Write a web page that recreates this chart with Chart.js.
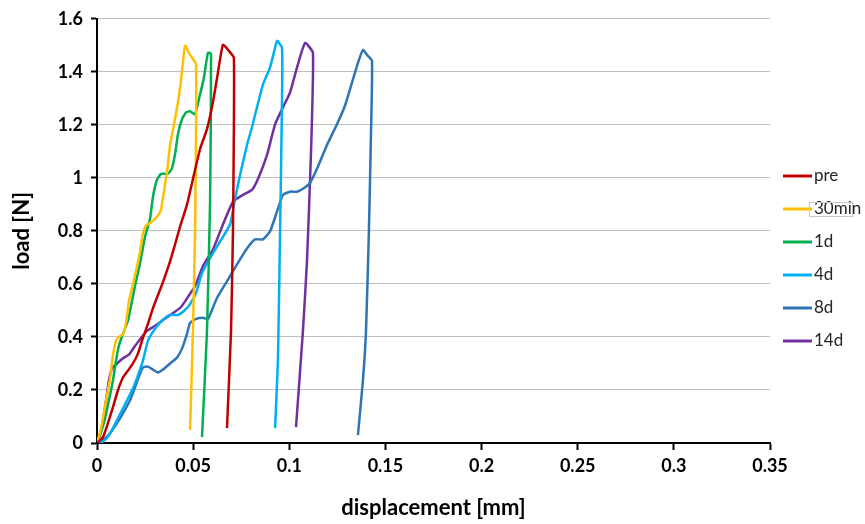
<!DOCTYPE html>
<html>
<head>
<meta charset="utf-8">
<script src="https://cdn.jsdelivr.net/npm/chart.js@4.4.1/dist/chart.umd.min.js"></script>
<style>
  html, body { margin: 0; padding: 0; background: #fff; }
  #wrap { width: 865px; height: 524px; }
</style>
</head>
<body>
<div id="wrap"><canvas id="loadChart" width="865" height="524"></canvas></div>
<script>
// series names and colours
var seriesNames = ['pre', '30min', '1d', '4d', '8d', '14d'];
var seriesColors = ['#C00000', '#FFC000', '#00B050', '#00B0F0', '#2E75B6', '#7030A0'];

// tick labels
var xTicks = [0, 0.05, 0.1, 0.15, 0.2, 0.25, 0.3, 0.35];
var yTicks = [0, 0.2, 0.4, 0.6, 0.8, 1, 1.2, 1.4, 1.6];

// displacement [mm] / load [N]
var preX = [0, 0.0031, 0.0057, 0.0083, 0.0109, 0.0135, 0.0161, 0.0187, 0.0213, 0.0239, 0.0265, 0.0291, 0.0317, 0.0343, 0.0380, 0.0406, 0.0432, 0.0468, 0.0499, 0.0536, 0.0572, 0.0603, 0.0629, 0.0655, 0.0686, 0.0712, 0.0707, 0.0697, 0.0676];
var preY = [0, 0.022, 0.075, 0.135, 0.199, 0.247, 0.273, 0.300, 0.337, 0.397, 0.449, 0.509, 0.558, 0.607, 0.685, 0.749, 0.816, 0.899, 0.996, 1.109, 1.184, 1.285, 1.397, 1.502, 1.479, 1.453, 0.798, 0.423, 0.056];

var min30X = [0, 0.0016, 0.0031, 0.0047, 0.0068, 0.0083, 0.0099, 0.0120, 0.0135, 0.0151, 0.0166, 0.0187, 0.0208, 0.0224, 0.0239, 0.0255, 0.0286, 0.0317, 0.0333, 0.0348, 0.0364, 0.0380, 0.0400, 0.0421, 0.0437, 0.0458, 0.0484, 0.0515, 0.0510, 0.0499, 0.0484];
var min30Y = [0, 0.041, 0.094, 0.161, 0.243, 0.330, 0.386, 0.404, 0.408, 0.453, 0.536, 0.599, 0.667, 0.723, 0.790, 0.820, 0.835, 0.858, 0.880, 0.948, 1.022, 1.124, 1.199, 1.285, 1.367, 1.498, 1.464, 1.427, 0.798, 0.423, 0.049];

var d1X = [0, 0.0021, 0.0042, 0.0062, 0.0083, 0.0099, 0.0114, 0.0135, 0.0161, 0.0182, 0.0203, 0.0224, 0.0250, 0.0276, 0.0291, 0.0312, 0.0333, 0.0359, 0.0374, 0.0390, 0.0406, 0.0421, 0.0442, 0.0463, 0.0484, 0.0510, 0.0536, 0.0556, 0.0577, 0.0593, 0.0588, 0.0572, 0.0546];
var d1Y = [0, 0.041, 0.094, 0.161, 0.236, 0.311, 0.367, 0.412, 0.461, 0.536, 0.610, 0.678, 0.779, 0.846, 0.929, 0.993, 1.015, 1.015, 1.019, 1.037, 1.090, 1.165, 1.221, 1.247, 1.251, 1.240, 1.315, 1.378, 1.472, 1.468, 0.910, 0.423, 0.022];

var d4X = [0, 0.0016, 0.0052, 0.0083, 0.0120, 0.0156, 0.0187, 0.0213, 0.0239, 0.0265, 0.0302, 0.0338, 0.0380, 0.0421, 0.0452, 0.0484, 0.0515, 0.0546, 0.0588, 0.0640, 0.0692, 0.0718, 0.0744, 0.0780, 0.0806, 0.0832, 0.0863, 0.0900, 0.0926, 0.0936, 0.0962, 0.0962, 0.0952, 0.0941, 0.0926];
var d4Y = [0, 0, 0.019, 0.056, 0.109, 0.161, 0.206, 0.255, 0.311, 0.386, 0.431, 0.461, 0.483, 0.483, 0.498, 0.524, 0.566, 0.640, 0.697, 0.760, 0.824, 0.921, 1.011, 1.124, 1.191, 1.266, 1.352, 1.416, 1.491, 1.517, 1.491, 1.285, 0.798, 0.311, 0.056];

var d8X = [0, 0.0031, 0.0068, 0.0104, 0.0135, 0.0172, 0.0198, 0.0224, 0.0239, 0.0265, 0.0291, 0.0317, 0.0343, 0.0380, 0.0416, 0.0442, 0.0468, 0.0484, 0.0515, 0.0551, 0.0577, 0.0624, 0.0676, 0.0728, 0.0780, 0.0822, 0.0863, 0.0900, 0.0936, 0.0967, 0.1004, 0.1040, 0.1071, 0.1108, 0.1144, 0.1196, 0.1248, 0.1290, 0.1331, 0.1357, 0.1383, 0.1404, 0.1430, 0.1425, 0.1414, 0.1399, 0.1383, 0.1357];
var d8Y = [0, 0.011, 0.037, 0.075, 0.112, 0.161, 0.210, 0.262, 0.285, 0.288, 0.277, 0.266, 0.277, 0.300, 0.322, 0.356, 0.412, 0.453, 0.468, 0.472, 0.468, 0.547, 0.610, 0.674, 0.734, 0.768, 0.768, 0.798, 0.873, 0.936, 0.948, 0.948, 0.959, 0.981, 1.034, 1.124, 1.202, 1.273, 1.371, 1.434, 1.483, 1.464, 1.442, 1.172, 0.798, 0.423, 0.236, 0.030];

var d14X = [0, 0.0016, 0.0031, 0.0047, 0.0062, 0.0078, 0.0109, 0.0140, 0.0166, 0.0192, 0.0218, 0.0260, 0.0302, 0.0338, 0.0390, 0.0437, 0.0473, 0.0510, 0.0551, 0.0603, 0.0655, 0.0707, 0.0759, 0.0806, 0.0837, 0.0884, 0.0926, 0.0967, 0.1004, 0.1040, 0.1082, 0.1123, 0.1113, 0.1092, 0.1071, 0.1035];
var d14Y = [0, 0.030, 0.086, 0.161, 0.236, 0.281, 0.303, 0.322, 0.333, 0.360, 0.386, 0.423, 0.442, 0.461, 0.487, 0.513, 0.551, 0.592, 0.667, 0.730, 0.824, 0.910, 0.936, 0.955, 0.996, 1.086, 1.202, 1.266, 1.322, 1.416, 1.509, 1.472, 1.097, 0.685, 0.423, 0.060];

var allX = [preX, min30X, d1X, d4X, d8X, d14X];
var allY = [preY, min30Y, d1Y, d4Y, d8Y, d14Y];

function toPoints(xs, ys) {
    var pts = [];
    for (let i = 0; i < xs.length; i++) {
        pts.push({ x: xs[i], y: ys[i] });
    }
    return pts;
}

var datasets = [];
for (let i = 0; i < seriesNames.length; i++) {
    datasets.push({
        label: seriesNames[i],
        data: toPoints(allX[i], allY[i]),
        borderColor: seriesColors[i],
        backgroundColor: seriesColors[i],
        borderWidth: 2.5,
        pointRadius: 0,
        tension: 0.15,
        showLine: true
    });
}

// legend drawn by hand, to the right of the plot
var sideLegend = {
    id: 'sideLegend',
    afterDraw: function (chart) {
        var ctx = chart.ctx;
        var x0 = chart.chartArea.right + 13;
        ctx.save();
        ctx.font = '17px Lato';
        ctx.textBaseline = 'middle';
        for (let i = 0; i < seriesNames.length; i++) {
            var y = 176 + i * 33;
            ctx.strokeStyle = seriesColors[i];
            ctx.lineWidth = 3;
            ctx.beginPath();
            ctx.moveTo(x0, y);
            ctx.lineTo(x0 + 29, y);
            ctx.stroke();
            ctx.fillStyle = '#262626';
            ctx.fillText(seriesNames[i], x0 + 31, y);
            if (seriesNames[i] === '30min') {
                ctx.strokeStyle = '#c8c8c8';
                ctx.lineWidth = 1;
                ctx.strokeRect(x0 + 26.5, y - 6.5, 43, 14);
            }
        }
        ctx.restore();
    }
};

var tickFont = { family: 'Lato', size: 18, weight: 'bold' };
var titleFont = { family: 'Lato', size: 22, weight: 'bold' };

var ctx = document.getElementById('loadChart').getContext('2d');
var chart = new Chart(ctx, {
    type: 'scatter',
    data: { datasets: datasets },
    options: {
        responsive: false,
        animation: false,
        layout: { padding: { top: 16, right: 95, bottom: 0, left: 0 } },
        plugins: {
            legend: { display: false },
            tooltip: { enabled: false }
        },
        scales: {
            x: {
                type: 'linear',
                min: 0,
                max: 0.35,
                afterBuildTicks: function (s) { s.ticks = xTicks.map(v => ({ value: v })); },
                afterFit: function (s) { s.height = 81; },
                grid: { drawOnChartArea: false, drawTicks: true, tickLength: 7, tickColor: '#000', tickWidth: 2 },
                border: { color: '#000', width: 2 },
                ticks: { color: '#000', padding: 5, font: tickFont, maxRotation: 0, callback: v => String(v) },
                title: {
                    display: true,
                    text: 'displacement [mm]',
                    color: '#000',
                    font: titleFont,
                    padding: { top: 0, bottom: 3 }
                }
            },
            y: {
                type: 'linear',
                min: 0,
                max: 1.6,
                afterBuildTicks: function (s) { s.ticks = yTicks.map(v => ({ value: v })); },
                afterFit: function (s) { s.width = 97; },
                grid: { color: '#bfbfbf', lineWidth: 1, drawTicks: true, tickLength: 6, tickColor: '#000', tickWidth: 2 },
                border: { color: '#000', width: 2 },
                ticks: { color: '#000', padding: 8, font: tickFont, callback: v => String(v) },
                title: {
                    display: true,
                    text: 'load [N]',
                    color: '#000',
                    font: titleFont,
                    padding: { top: 9, bottom: 0 }
                }
            }
        }
    },
    plugins: [sideLegend]
});
</script>
</body>
</html>
